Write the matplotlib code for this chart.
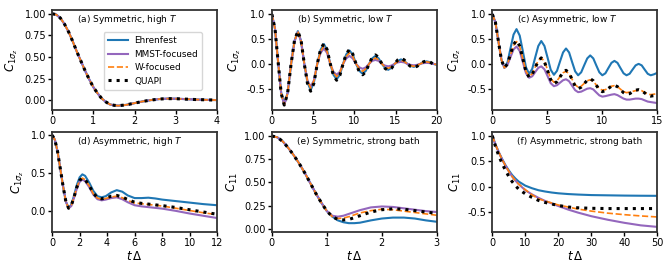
import numpy as np
import matplotlib
matplotlib.use("Agg")
import matplotlib.pyplot as plt

# ---- (a) Symmetric, high T : all methods agree ----
t_a = [0, 0.1, 0.2, 0.3, 0.4, 0.5, 0.6, 0.7, 0.8, 0.9, 1.0, 1.1, 1.2, 1.3,
       1.4, 1.5, 1.6, 1.8, 2.0, 2.2, 2.4, 2.6, 2.8, 3.0, 3.2, 3.5, 3.8, 4.0]
a_common = [1.0, 0.99, 0.95, 0.88, 0.79, 0.68, 0.56, 0.45, 0.34, 0.24, 0.15,
            0.08, 0.02, -0.02, -0.05, -0.06, -0.065, -0.055, -0.035, -0.015,
            0.0, 0.012, 0.017, 0.016, 0.012, 0.006, 0.002, 0.0]
a_ehr = a_common
a_mmst = a_common
a_w = a_common
a_quapi = a_common

# ---- (b) Symmetric, low T ----
t_b = [0, 0.375, 0.75, 1.125,
       1.5, 1.91, 2.33, 2.74,
       3.15, 3.54, 3.93, 4.31,
       4.7, 5.1, 5.5, 5.9,
       6.3, 6.69, 7.08, 7.46,
       7.85, 8.24, 8.63, 9.01,
       9.4, 9.8, 10.2, 10.6,
       11.0, 11.39, 11.78, 12.16,
       12.55, 12.94, 13.33, 13.71,
       14.1, 14.49, 14.88, 15.26,
       15.65, 16.04, 16.43, 16.81,
       17.2, 17.59, 17.98, 18.36,
       18.75, 19.14, 19.53, 20.0]
b_ehr = [1.0, 0.71, 0.05, -0.58,
         -0.82, -0.58, 0.0, 0.46,
         0.66, 0.46, 0.0, -0.37,
         -0.53, -0.37, 0.0, 0.28,
         0.40, 0.28, 0.0, -0.22,
         -0.31, -0.22, 0.0, 0.19,
         0.27, 0.19, 0.0, -0.14,
         -0.20, -0.14, 0.0, 0.11,
         0.16, 0.11, 0.0, -0.08,
         -0.12, -0.08, 0.0, 0.06,
         0.09, 0.06, 0.0, -0.04,
         -0.06, -0.04, 0.0, 0.035,
         0.05, 0.035, 0.0, -0.02]
b_mmst = [1.0, 0.71, 0.05, -0.59,
          -0.83, -0.59, 0.0, 0.45,
          0.64, 0.45, 0.0, -0.33,
          -0.46, -0.33, 0.0, 0.22,
          0.31, 0.22, 0.0, -0.16,
          -0.22, -0.16, 0.0, 0.11,
          0.16, 0.11, 0.0, -0.07,
          -0.10, -0.07, 0.0, 0.06,
          0.08, 0.06, 0.0, -0.035,
          -0.05, -0.035, 0.0, 0.03,
          0.04, 0.03, 0.0, -0.02,
          -0.03, -0.02, 0.0, 0.015,
          0.02, 0.015, 0.0, -0.01]
b_w = [1.0, 0.71, 0.05, -0.59,
       -0.83, -0.59, 0.0, 0.46,
       0.66, 0.46, 0.0, -0.34,
       -0.49, -0.34, 0.0, 0.25,
       0.36, 0.25, 0.0, -0.18,
       -0.26, -0.18, 0.0, 0.15,
       0.22, 0.15, 0.0, -0.10,
       -0.15, -0.10, 0.0, 0.08,
       0.12, 0.08, 0.0, -0.06,
       -0.09, -0.06, 0.0, 0.05,
       0.07, 0.05, 0.0, -0.035,
       -0.05, -0.035, 0.0, 0.03,
       0.04, 0.03, 0.0, -0.015]
b_quapi = [1.0, 0.71, 0.05, -0.59,
           -0.83, -0.59, 0.0, 0.47,
           0.66, 0.47, 0.0, -0.39,
           -0.55, -0.39, 0.0, 0.29,
           0.41, 0.29, 0.0, -0.23,
           -0.33, -0.23, 0.0, 0.20,
           0.29, 0.20, 0.0, -0.16,
           -0.22, -0.16, 0.0, 0.13,
           0.18, 0.13, 0.0, -0.09,
           -0.13, -0.09, 0.0, 0.08,
           0.11, 0.08, 0.0, -0.05,
           -0.07, -0.05, 0.0, 0.04,
           0.06, 0.04, 0.0, -0.03]

# ---- (c) Asymmetric, low T ----
t_c = [0, 0.28, 0.55, 0.83,
       1.1, 1.38, 1.65, 1.93,
       2.2, 2.49, 2.78, 3.06,
       3.35, 3.63, 3.9, 4.18,
       4.45, 4.74, 5.03, 5.31,
       5.6, 5.88, 6.15, 6.43,
       6.7, 6.98, 7.25, 7.53,
       7.8, 8.08, 8.35, 8.63,
       8.9, 9.18, 9.45, 9.73,
       10.0, 10.28, 10.55, 10.83,
       11.1, 11.38, 11.65, 11.93,
       12.2, 12.48, 12.75, 13.03,
       13.3, 13.58, 13.85, 14.13,
       14.4, 14.7, 15.0]
c_ehr = [1.0, 0.84, 0.46, 0.08,
         -0.08, 0.03, 0.31, 0.59,
         0.70, 0.57, 0.25, -0.07,
         -0.20, -0.10, 0.13, 0.36,
         0.46, 0.36, 0.12, -0.12,
         -0.22, -0.14, 0.045, 0.23,
         0.31, 0.23, 0.04, -0.15,
         -0.23, -0.17, -0.03, 0.11,
         0.17, 0.11, -0.03, -0.17,
         -0.23, -0.19, -0.085, 0.02,
         0.06, 0.02, -0.085, -0.19,
         -0.23, -0.20, -0.115, -0.03,
         0.0, -0.03, -0.115, -0.20,
         -0.23, -0.21, -0.18]
c_mmst = [1.0, 0.84, 0.46, 0.08,
          -0.08, -0.02, 0.135, 0.29,
          0.35, 0.26, 0.035, -0.19,
          -0.28, -0.25, -0.165, -0.08,
          -0.05, -0.11, -0.25, -0.39,
          -0.45, -0.43, -0.38, -0.33,
          -0.31, -0.35, -0.44, -0.53,
          -0.57, -0.56, -0.53, -0.50,
          -0.49, -0.515, -0.575, -0.635,
          -0.66, -0.65, -0.635, -0.62,
          -0.61, -0.63, -0.665, -0.70,
          -0.72, -0.72, -0.71, -0.70,
          -0.70, -0.71, -0.735, -0.76,
          -0.77, -0.78, -0.79]
c_w = [1.0, 0.84, 0.46, 0.08,
       -0.08, 0.0, 0.185, 0.37,
       0.45, 0.35, 0.10, -0.15,
       -0.25, -0.20, -0.065, 0.07,
       0.12, 0.05, -0.125, -0.30,
       -0.37, -0.34, -0.26, -0.18,
       -0.15, -0.20, -0.31, -0.42,
       -0.47, -0.45, -0.395, -0.34,
       -0.32, -0.35, -0.425, -0.50,
       -0.53, -0.52, -0.485, -0.45,
       -0.44, -0.46, -0.51, -0.56,
       -0.58, -0.57, -0.555, -0.54,
       -0.53, -0.54, -0.575, -0.61,
       -0.62, -0.61, -0.60]
c_quapi = [1.0, 0.84, 0.46, 0.08,
           -0.08, 0.0, 0.195, 0.39,
           0.47, 0.36, 0.10, -0.16,
           -0.27, -0.21, -0.075, 0.06,
           0.12, 0.04, -0.14, -0.32,
           -0.40, -0.36, -0.265, -0.17,
           -0.13, -0.18, -0.315, -0.45,
           -0.50, -0.47, -0.40, -0.33,
           -0.30, -0.34, -0.43, -0.52,
           -0.56, -0.54, -0.495, -0.45,
           -0.43, -0.46, -0.52, -0.58,
           -0.61, -0.60, -0.565, -0.53,
           -0.52, -0.54, -0.585, -0.63,
           -0.65, -0.64, -0.63]

# ---- (d) Asymmetric, high T ----
t_d = [0, 0.2, 0.4, 0.6, 0.8, 1.0, 1.2, 1.4, 1.6, 1.8, 2.0, 2.2, 2.4, 2.7,
       3.0, 3.3, 3.6, 3.9, 4.3, 4.7, 5.1, 5.5, 6.0, 6.5, 7.0, 7.5, 8.0, 9.0,
       10.0, 11.0, 12.0]
d_ehr = [1.0, 0.94, 0.78, 0.55, 0.32, 0.12, 0.03, 0.08, 0.20, 0.34, 0.44,
         0.48, 0.46, 0.37, 0.26, 0.19, 0.175, 0.19, 0.24, 0.27, 0.25, 0.20,
         0.165, 0.165, 0.17, 0.16, 0.145, 0.125, 0.105, 0.085, 0.07]
d_mmst = [1.0, 0.94, 0.78, 0.55, 0.32, 0.12, 0.03, 0.06, 0.17, 0.29, 0.38,
          0.41, 0.39, 0.31, 0.21, 0.15, 0.135, 0.145, 0.165, 0.175, 0.15,
          0.11, 0.07, 0.055, 0.045, 0.035, 0.025, -0.005, -0.04, -0.07, -0.10]
d_w = [1.0, 0.94, 0.78, 0.55, 0.32, 0.12, 0.03, 0.07, 0.18, 0.31, 0.40,
       0.43, 0.41, 0.33, 0.22, 0.165, 0.15, 0.16, 0.18, 0.19, 0.17, 0.135,
       0.10, 0.09, 0.08, 0.07, 0.06, 0.03, 0.0, -0.03, -0.055]
d_quapi = [1.0, 0.94, 0.78, 0.55, 0.32, 0.12, 0.03, 0.07, 0.18, 0.31, 0.40,
           0.43, 0.41, 0.33, 0.23, 0.17, 0.155, 0.165, 0.19, 0.20, 0.18,
           0.145, 0.11, 0.095, 0.085, 0.075, 0.065, 0.04, 0.01, -0.02, -0.05]

# ---- (e) Symmetric, strong bath ----
t_e = [0, 0.1, 0.2, 0.3, 0.4, 0.5, 0.6, 0.7, 0.8, 0.9, 1.0, 1.1, 1.2, 1.3,
       1.4, 1.5, 1.6, 1.8, 2.0, 2.2, 2.4, 2.6, 2.8, 3.0]
e_ehr = [1.0, 0.985, 0.94, 0.87, 0.79, 0.70, 0.60, 0.49, 0.38, 0.28, 0.19,
         0.13, 0.09, 0.07, 0.06, 0.06, 0.065, 0.09, 0.11, 0.12, 0.12, 0.11,
         0.09, 0.075]
e_mmst = [1.0, 0.985, 0.94, 0.87, 0.79, 0.70, 0.60, 0.49, 0.38, 0.28, 0.19,
          0.14, 0.13, 0.14, 0.16, 0.18, 0.20, 0.23, 0.24, 0.235, 0.22, 0.205,
          0.19, 0.18]
e_w = [1.0, 0.985, 0.94, 0.87, 0.79, 0.70, 0.60, 0.49, 0.38, 0.28, 0.19,
       0.13, 0.11, 0.115, 0.13, 0.15, 0.17, 0.195, 0.21, 0.205, 0.19, 0.175,
       0.16, 0.145]
e_quapi = [1.0, 0.985, 0.94, 0.87, 0.79, 0.70, 0.60, 0.49, 0.38, 0.28, 0.19,
           0.13, 0.10, 0.095, 0.10, 0.12, 0.14, 0.18, 0.205, 0.215, 0.21,
           0.195, 0.18, 0.165]

# ---- (f) Asymmetric, strong bath ----
t_f = [0, 1, 2, 3, 4, 5, 6, 7, 8, 10, 12, 14, 16, 18, 20, 23, 26, 30, 35,
       40, 45, 50]
f_ehr = [1.0, 0.82, 0.67, 0.54, 0.42, 0.32, 0.23, 0.16, 0.10, 0.02, -0.03,
         -0.07, -0.095, -0.115, -0.13, -0.145, -0.155, -0.165, -0.17, -0.175,
         -0.178, -0.18]
f_mmst = [1.0, 0.82, 0.67, 0.53, 0.41, 0.30, 0.20, 0.12, 0.05, -0.07, -0.15,
          -0.22, -0.28, -0.33, -0.38, -0.45, -0.51, -0.58, -0.65, -0.71,
          -0.76, -0.79]
f_w = [1.0, 0.82, 0.67, 0.53, 0.41, 0.30, 0.20, 0.12, 0.05, -0.06, -0.16,
       -0.24, -0.28, -0.32, -0.36, -0.40, -0.44, -0.48, -0.52, -0.55,
       -0.575, -0.595]
f_quapi = [1.0, 0.78, 0.60, 0.45, 0.32, 0.20, 0.10, 0.02, -0.05, -0.14,
           -0.21, -0.27, -0.31, -0.34, -0.37, -0.40, -0.415, -0.425, -0.43,
           -0.43, -0.43, -0.43]

panels = [
    ("(a) Symmetric, high $T$", t_a, [a_ehr, a_mmst, a_w, a_quapi],
     (0, 4), [0, 1, 2, 3, 4], (-0.115, 1.046), [0, 0.25, 0.5, 0.75, 1.0], "%.2f", r"$C_{1\sigma_z}$"),
    ("(b) Symmetric, low $T$", t_b, [b_ehr, b_mmst, b_w, b_quapi],
     (0, 20), [0, 5, 10, 15, 20], (-0.93, 1.09), [-0.5, 0, 0.5, 1.0], "%.1f", r"$C_{1\sigma_z}$"),
    ("(c) Asymmetric, low $T$", t_c, [c_ehr, c_mmst, c_w, c_quapi],
     (0, 15), [0, 5, 10, 15], (-0.93, 1.09), [-0.5, 0, 0.5, 1.0], "%.1f", r"$C_{1\sigma_z}$"),
    ("(d) Asymmetric, high $T$", t_d, [d_ehr, d_mmst, d_w, d_quapi],
     (0, 12), [0, 2, 4, 6, 8, 10, 12], (-0.285, 1.046), [0, 0.5, 1.0], "%.1f", r"$C_{1\sigma_z}$"),
    ("(e) Symmetric, strong bath", t_e, [e_ehr, e_mmst, e_w, e_quapi],
     (0, 3), [0, 1, 2, 3], (-0.035, 1.046), [0, 0.25, 0.5, 0.75, 1.0], "%.2f", r"$C_{11}$"),
    ("(f) Asymmetric, strong bath", t_f, [f_ehr, f_mmst, f_w, f_quapi],
     (0, 50), [0, 10, 20, 30, 40, 50], (-0.89, 1.08), [-0.5, 0, 0.5, 1.0], "%.1f", r"$C_{11}$"),
]

labels = ["Ehrenfest", "MMST-focused", "W-focused", "QUAPI"]
styles = [dict(color="#1f77b4", ls="-", lw=1.5),
          dict(color="#9467bd", ls="-", lw=1.5),
          dict(color="#ff7f0e", ls="--", lw=1.2),
          dict(color="black", ls=":", lw=2.2)]

plt.rcParams["font.size"] = 7
plt.rcParams["axes.linewidth"] = 1.3
plt.rcParams["axes.edgecolor"] = "#333333"

fig = plt.figure(figsize=(6.68, 2.71), dpi=100)
lefts = [0.078, 0.407, 0.737]
bottoms = [0.594, 0.144]
w, h = 0.247, 0.37

for k, (title, t, series, xl, xt, yl, yt, fmt, ylab) in enumerate(panels):
    ax = fig.add_axes([lefts[k % 3], bottoms[k // 3], w, h])
    for y, lab, st in zip(series, labels, styles):
        ax.plot(t, y, label=lab, **st)
    ax.set_xlim(*xl)
    ax.set_xticks(xt)
    ax.set_ylim(*yl)
    ax.set_yticks(yt)
    ax.yaxis.set_major_formatter(matplotlib.ticker.FormatStrFormatter(fmt))
    ax.set_ylabel(ylab, fontsize=8.5, labelpad=3)
    ax.tick_params(labelsize=7, length=3, width=1, pad=1.5)
    ax.text(0.15, 0.9, title, transform=ax.transAxes, va="center", ha="left", fontsize=6.5)
    if k >= 3:
        ax.set_xlabel(r"$t\,\Delta$", fontsize=8.5, labelpad=1)
    if k == 0:
        ax.legend(loc="upper left", bbox_to_anchor=(0.285, 0.82), fontsize=6.4,
                  handlelength=2.3, borderpad=0.45, labelspacing=0.5,
                  handletextpad=0.7)

fig.savefig("out.png", dpi=100)
